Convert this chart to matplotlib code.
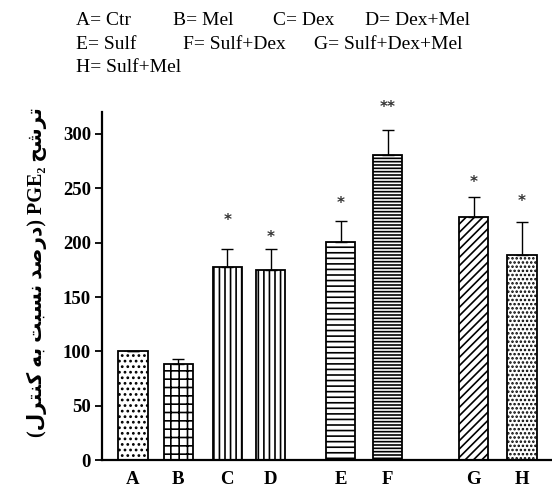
import numpy as np
import matplotlib.pyplot as plt

plt.rcParams['hatch.linewidth'] = 1.2

# data
groups = ['A', 'B', 'C', 'D', 'E', 'F', 'G', 'H']
means = [100, 88, 178, 175, 201, 281, 224, 189]
errs = [0, 5, 16, 19, 19, 23, 18, 30]
stars = ['', '', '*', '*', '*', '**', '*', '*']
star_y = [0, 0, 220, 205, 236, 324, 255, 238]
legend_rows = [
    ['A= Ctr', 'B= Mel', 'C= Dex', 'D= Dex+Mel'],
    ['E= Sulf', 'F= Sulf+Dex', 'G= Sulf+Dex+Mel'],
    ['H= Sulf+Mel'],
]

# layout
xpos = [0, 0.99, 2.07, 3.03, 4.57, 5.6, 7.49, 8.55]
hatches = ['...', '++', '|||', '|||', '---', '-----', '////', '....']
legend_x = [[0.138, 0.313, 0.495, 0.661], [0.138, 0.332, 0.569], [0.138]]

# Persian y label, shaped glyphs in visual order
fa_label = ('(\uFEDD\uFEAE\uFE98\uFEE8\uFB90 \uFEEA\uFE91 \uFE96\uFE92\uFEB4\uFEE7 '
            '\uFEAA\uFEBB\uFEAD\uFEA9) PGE\u2082 \uFEA2\uFEB7\uFEAE\uFE97')

fig = plt.figure(figsize=(5.52, 4.9), dpi=100)
ax = fig.add_axes([0.185, 0.061, 0.815, 0.71])

bars = ax.bar(xpos, means, width=0.64, color='white', edgecolor='black',
              linewidth=1.3)
for b, h in zip(bars, hatches):
    b.set_hatch(h)

ax.errorbar(xpos, means, yerr=[np.zeros(len(errs)), errs], fmt='none',
            ecolor='black', elinewidth=1, capsize=4, capthick=1)

for x, s, y in zip(xpos, stars, star_y):
    if s:
        ax.text(x, y, s, ha='center', va='center', fontsize=11,
                fontweight='bold', color='#333333')

ax.set_xlim(-0.68, 9.21)
ax.set_ylim(0, 320)
ax.set_yticks(np.arange(0, 301, 50))
ax.set_xticks(xpos)
ax.set_xticklabels(groups)
for lab in ax.get_xticklabels() + ax.get_yticklabels():
    lab.set_family('Liberation Serif')
    lab.set_fontweight('bold')
    lab.set_fontsize(13.5)
ax.tick_params(axis='x', length=0, pad=8)
ax.tick_params(axis='y', length=5, width=1.3, direction='out', pad=3)
for sp in ['top', 'right']:
    ax.spines[sp].set_visible(False)
for sp in ['left', 'bottom']:
    ax.spines[sp].set_linewidth(1.6)

fig.text(0.066, 0.445, fa_label, rotation=90, ha='center', va='center',
         fontsize=14.5, fontweight='bold',
         family=['Liberation Serif', 'DejaVu Sans'])

row_y = [0.958, 0.91, 0.862]
for row, xs, y in zip(legend_rows, legend_x, row_y):
    for t, x in zip(row, xs):
        fig.text(x, y, t, ha='left', va='center', fontsize=14,
                 family='Liberation Serif')

fig.savefig('out.png', dpi=100)
